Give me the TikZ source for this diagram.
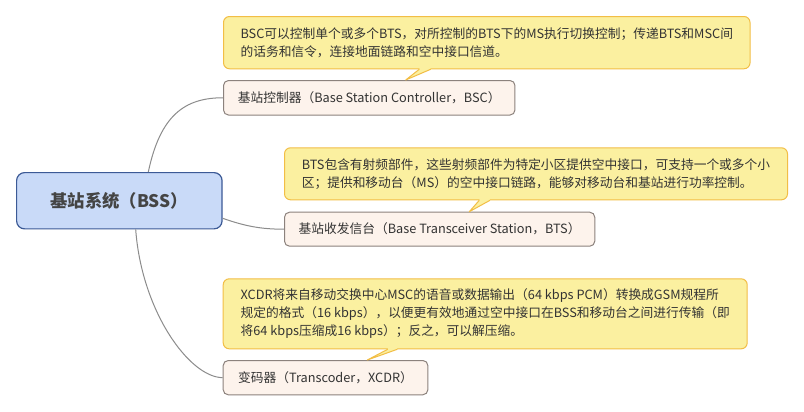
\documentclass[tikz,border=0pt]{standalone}
\usepackage{fontspec}
\setmainfont{Noto Sans CJK SC}
\usetikzlibrary{calc}
\definecolor{corefill}{HTML}{C9DAF8}
\definecolor{coreline}{HTML}{3C5A96}
\definecolor{coretext}{HTML}{444444}
\definecolor{topicfill}{HTML}{FDF3EC}
\definecolor{topicline}{HTML}{8C827D}
\definecolor{notefill}{HTML}{FBF0A0}
\definecolor{noteline}{HTML}{F2BE46}
\definecolor{linkcol}{HTML}{8C8C8C}
\definecolor{bodytext}{HTML}{333333}
\begin{document}
\begin{tikzpicture}[x=0.75pt,y=-0.75pt,
  corebox/.style={draw=coreline, fill=corefill, line width=0.9pt, rounded corners=6pt,
    anchor=north west, inner sep=0pt, align=center,
    font=\fontsize{13pt}{16pt}\selectfont\bfseries, text=coretext},
  topicbox/.style={draw=topicline, fill=topicfill, line width=0.75pt, rounded corners=3.75pt,
    anchor=north west, inner xsep=9.5pt, inner ysep=0pt, align=left,
    font=\fontsize{9.55pt}{13.5pt}\selectfont, text=bodytext},
  notebox/.style={draw=noteline, fill=notefill, line width=0.75pt, rounded corners=4.5pt,
    anchor=north west, inner xsep=10.5pt, inner ysep=0pt, align=left,
    font=\fontsize{9.55pt}{13.5pt}\selectfont, text=bodytext},
  link/.style={draw=linkcol, line width=0.75pt},
  pointerfill/.style={fill=notefill},
  pointerline/.style={draw=noteline, line width=0.75pt, line join=round}
]
\useasboundingbox (0,0) rectangle (804,411);
\fill[white] (0,0) rectangle (804,411);

% nodes
\node[corebox, minimum width=154.1pt, minimum height=42.2pt] (core) at (16,172) {基站系统（BSS）};

\node[topicbox, minimum width=218.6pt, minimum height=25.9pt] (bsc) at (223,80)
  {基站控制器（Base Station Controller，BSC）};
\node[notebox, minimum width=394.9pt, minimum height=39.2pt] (n1) at (223,16)
  {BSC可以控制单个或多个BTS，对所控制的BTS下的MS执行切换控制；传递BTS和MSC间\\
   的话务和信令，连接地面链路和空中接口信道。};

\node[topicbox, minimum width=232.7pt, minimum height=25.5pt] (bts) at (284,211.7)
  {基站收发信台（Base Transceiver Station，BTS）};
\node[notebox, minimum width=377.25pt, minimum height=39pt] (n2) at (284,147.3)
  {BTS包含有射频部件，这些射频部件为特定小区提供空中接口，可支持一个或多个小\\
   区；提供和移动台（MS）的空中接口链路，能够对移动台和基站进行功率控制。};

\node[topicbox, minimum width=153.5pt, minimum height=25.7pt] (xcdr) at (222.7,360)
  {变码器（Transcoder，XCDR）};
\node[notebox, minimum width=393pt, minimum height=52.5pt] (n3) at (222.7,278.3)
  {XCDR将来自移动交换中心MSC的语音或数据输出（64 kbps PCM）转换成GSM规程所\\
   规定的格式（16 kbps），以便更有效地通过空中接口在BSS和移动台之间进行传输（即\\
   将64 kbps压缩成16 kbps）；反之，可以解压缩。};

% connectors
\coordinate (sBSC) at ($(core.north west)+(132.3,0)$);
\coordinate (sBTS) at ($(core.north east)+(0,46.3)$);
\coordinate (sXCDR) at ($(core.south west)+(119.7,0)$);
\begin{scope}[link]
  \draw (sBSC) .. controls +(12,-57) and +(-38,0) .. (bsc.west);
  \draw (sBTS) .. controls +(23,8) and +(-23,0) .. (bts.west);
  \draw (sXCDR) .. controls +(6,82) and +(-33,0) .. (xcdr.west);
\end{scope}

% pointers
\coordinate (p1l) at ($(n1.south west)+(196.3,0)$);
\coordinate (p1r) at ($(n1.south west)+(207.7,0)$);
\coordinate (p1t) at ($(bsc.north west)+(182.7,0)$);
\coordinate (p2l) at ($(n2.south west)+(195.3,0)$);
\coordinate (p2r) at ($(n2.south west)+(206,0)$);
\coordinate (p2t) at ($(bts.north west)+(185.3,0)$);
\coordinate (p3l) at ($(n3.south west)+(165,0)$);
\coordinate (p3r) at ($(n3.south west)+(174.6,0)$);
\coordinate (p3t) at ($(xcdr.north west)+(144.6,0)$);

\foreach \l/\t/\r in {p1l/p1t/p1r, p2l/p2t/p2r, p3l/p3t/p3r}{
  \fill[pointerfill] ($(\l)+(0.3,-1.2)$) -- (\l) -- (\t) -- (\r) -- ($(\r)+(-0.3,-1.2)$) -- cycle;
  \draw[pointerline] (\l) -- (\t) -- (\r);
}
\end{tikzpicture}
\end{document}
